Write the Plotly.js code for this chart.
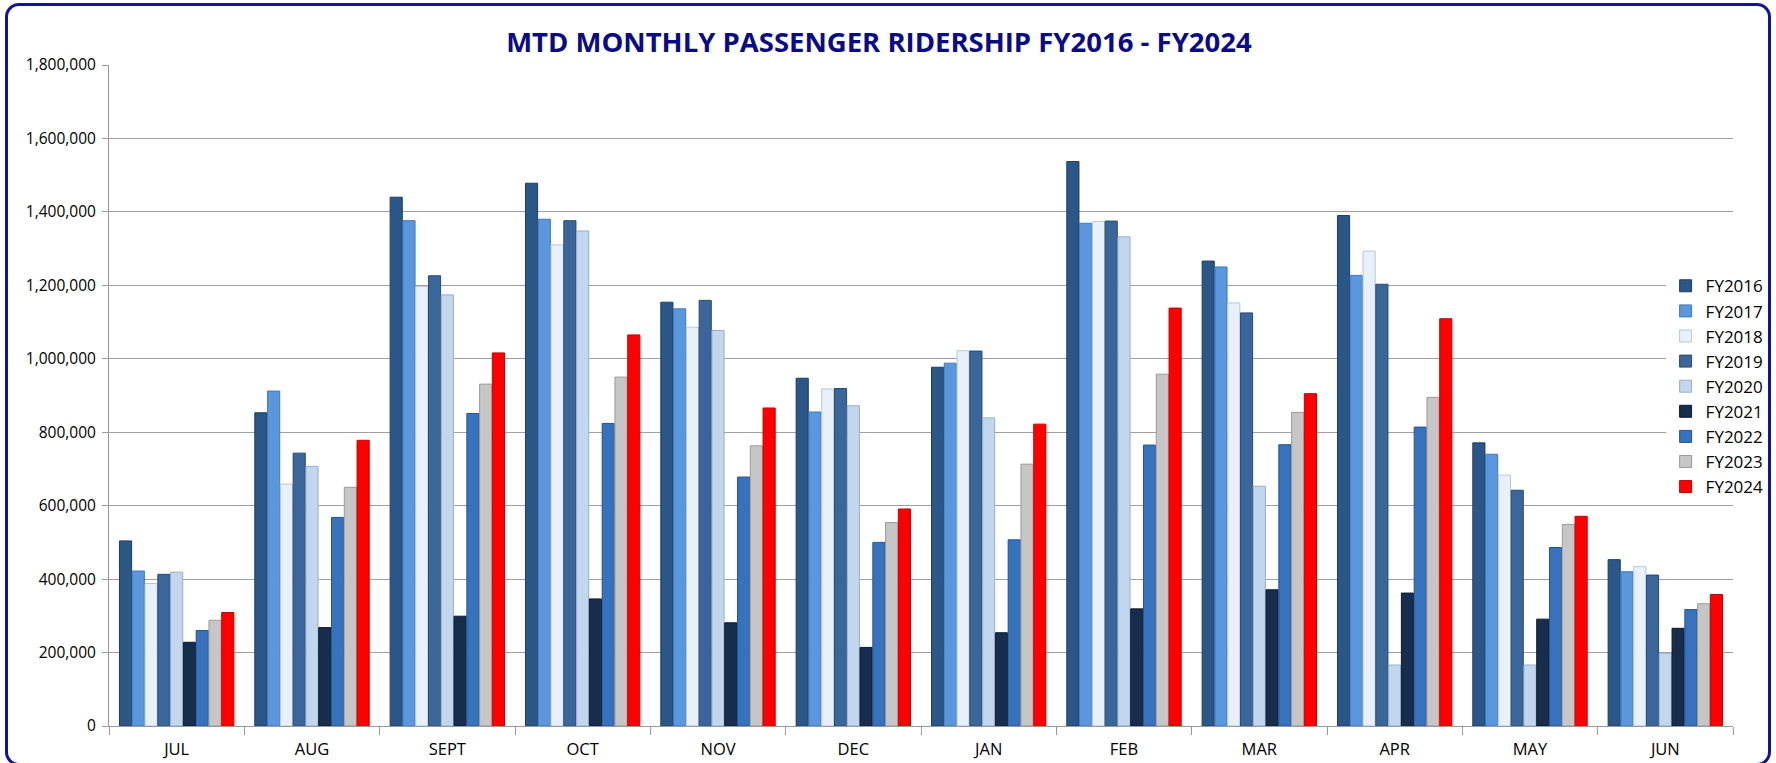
<!DOCTYPE html>
<html>
<head>
<meta charset="utf-8">
<script src="https://cdn.plot.ly/plotly-3.0.1.min.js"></script>
<style>
  html, body { margin: 0; padding: 0; background: #ffffff; }
  #wrap { position: relative; width: 1776px; height: 763px; overflow: hidden; }
  #chart { position: absolute; left: 0; top: 0; width: 1776px; height: 763px; }
  #frame { position: absolute; left: 5px; top: 3px; width: 1760px; height: 757px;
           border: 3px solid #1212a0; border-radius: 14px; pointer-events: none; }
</style>
</head>
<body>
<div id="wrap">
  <div id="chart"></div>
  <div id="frame"></div>
</div>
<script>
const months = ["JUL","AUG","SEPT","OCT","NOV","DEC","JAN","FEB","MAR","APR","MAY","JUN"];
const seriesNames = ["FY2016","FY2017","FY2018","FY2019","FY2020","FY2021","FY2022","FY2023","FY2024"];

const fy2016 = [504000, 853000, 1440000, 1478000, 1154000, 947000, 977000, 1537000, 1266000, 1390000, 771000, 453000];
const fy2017 = [422000, 912000, 1376000, 1380000, 1136000, 855000, 988000, 1369000, 1250000, 1227000, 740000, 420000];
const fy2018 = [388000, 659000, 1197000, 1310000, 1086000, 918000, 1022000, 1374000, 1152000, 1293000, 683000, 434000];
const fy2019 = [413000, 743000, 1226000, 1376000, 1159000, 919000, 1021000, 1375000, 1125000, 1203000, 642000, 411000];
const fy2020 = [419000, 707000, 1174000, 1348000, 1077000, 872000, 839000, 1332000, 653000, 166000, 166000, 198000];
const fy2021 = [228000, 268000, 299000, 346000, 281000, 214000, 254000, 319000, 371000, 362000, 291000, 266000];
const fy2022 = [260000, 568000, 851000, 824000, 678000, 500000, 507000, 765000, 766000, 814000, 486000, 317000];
const fy2023 = [288000, 650000, 931000, 950000, 763000, 554000, 713000, 958000, 854000, 895000, 549000, 333000];
const fy2024 = [309000, 778000, 1016000, 1065000, 866000, 591000, 822000, 1138000, 905000, 1109000, 571000, 358000];

const seriesValues = [fy2016, fy2017, fy2018, fy2019, fy2020, fy2021, fy2022, fy2023, fy2024];
const fillColors = ["#2a5788", "#5b97dd", "#e8f0fa", "#3b6699", "#c2d6ee", "#182c4b", "#3672be", "#c6c6c6", "#ff0000"];
const edgeColors = ["#1c3d63", "#3f78bb", "#b9c6d4", "#284a73", "#97aecb", "#0c1a30", "#24558f", "#9a9a9a", "#c80000"];

const yTicks = [0, 200000, 400000, 600000, 800000, 1000000, 1200000, 1400000, 1600000, 1800000];

const traces = seriesNames.map((name, i) => ({
  type: "bar",
  name: name,
  x: months,
  y: seriesValues[i],
  legendgroup: name,
  marker: { color: fillColors[i], line: { color: edgeColors[i], width: 1 } },
  hoverinfo: "x+y+name"
}));

const layout = {
  width: 1776,
  height: 763,
  margin: { l: 109, r: 43, t: 65, b: 37, autoexpand: false },
  paper_bgcolor: "#ffffff",
  plot_bgcolor: "#ffffff",
  font: { family: "Open Sans, sans-serif", size: 15, color: "#000000" },
  title: {
    text: "<b>MTD MONTHLY PASSENGER RIDERSHIP FY2016 - FY2024</b>",
    font: { family: "Open Sans, sans-serif", size: 27.5, color: "#0b0b85" },
    x: 0.4949, xanchor: "center",
    y: 0.945, yanchor: "middle"
  },
  barmode: "group",
  bargap: 0.15,
  bargroupgap: 0.05,
  xaxis: {
    type: "category",
    showgrid: false,
    showline: true,
    linecolor: "#9a9a9a",
    linewidth: 1,
    ticks: "outside",
    tickson: "boundaries",
    ticklen: 8,
    tickcolor: "#9a9a9a",
    ticklabelstandoff: 8,
    tickfont: { size: 16.5, color: "#000000" },
    zeroline: false
  },
  yaxis: {
    range: [0, 1800000],
    tickvals: yTicks,
    tickformat: ",d",
    showgrid: true,
    gridcolor: "#a0a0a0",
    gridwidth: 1,
    showline: true,
    linecolor: "#9a9a9a",
    linewidth: 1,
    ticks: "outside",
    ticklen: 6,
    tickcolor: "#9a9a9a",
    ticklabelstandoff: 3,
    tickfont: { size: 15.5, color: "#000000" },
    zeroline: false
  },
  showlegend: true,
  legend: {
    x: 0.9585, xanchor: "left",
    y: 0.514, yanchor: "middle",
    bgcolor: "#ffffff",
    font: { size: 17, color: "#000000" },
    tracegroupgap: 6.8,
    traceorder: "normal"
  }
};

Plotly.newPlot("chart", traces, layout, { staticPlot: false, displayModeBar: false });
</script>
</body>
</html>
